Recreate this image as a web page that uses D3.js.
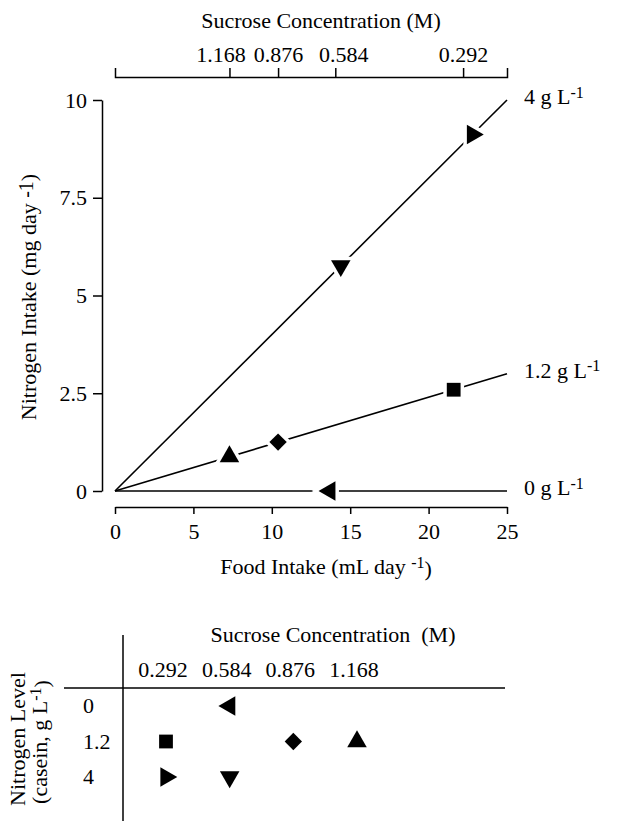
<!DOCTYPE html>
<html>
<head>
<meta charset="utf-8">
<script src="https://cdn.jsdelivr.net/npm/d3@7"></script>
<style>
  body { margin: 0; background: #fff; }
  svg text { font-family: "Liberation Serif", "DejaVu Serif", serif; font-size: 22px; fill: #000; }
  .axis path, .axis line { stroke: #000; stroke-width: 1.5; }
</style>
</head>
<body>
<svg id="chart" width="618" height="821"></svg>
<script>
// values
const sucroseLevels = ['0.292', '0.584', '0.876', '1.168'];
const sucroseTickFood = [22.2, 14.05, 10.4, 7.3];   // where each sucrose tick sits on the food axis
const nitrogenLevels = ['0', '1.2', '4'];
const lineEndIntake = [0, 3, 10];                    // N intake at 25 mL/day, per nitrogen level
const lineLabels = ['0 g L', '1.2 g L', '4 g L'];

const pointShape    = ['left', 'square', 'diamond', 'up', 'right', 'down'];
const pointSucrose  = ['0.584', '0.292', '0.876', '1.168', '0.292', '0.584'];
const pointNitrogen = ['0', '1.2', '1.2', '1.2', '4', '4'];
const pointFood     = [13.7, 21.6, 10.4, 7.3, 22.8, 14.4];
const pointIntake   = [0, 2.59, 1.25, 0.88, 9.12, 5.76];

const foodTicks = [0, 5, 10, 15, 20, 25];
const intakeTicks = [0, 2.5, 5, 7.5, 10];

const FONT = '"Liberation Serif", "DejaVu Serif", serif';
const svg = d3.select('#chart').attr('font-family', FONT);

let x = d3.scaleLinear().domain([0, 25]).range([115, 507]),
    y = d3.scaleLinear().domain([0, 10]).range([491, 100]);

function marker(shape) {
  let type = d3.symbolTriangle, size = 165, rot = 0;
  if (shape === 'square') { type = d3.symbolSquare; size = 190; }
  if (shape === 'diamond') { type = d3.symbolSquare; size = 150; rot = 45; }
  if (shape === 'right') rot = 90;
  if (shape === 'down') rot = 180;
  if (shape === 'left') rot = -90;
  return {path: d3.symbol().type(type).size(size)(), rot: rot};
}

function drawMarkers(g, px, py, halo) {
  let m = g.selectAll('.pt').data(pointShape.map((s, i) => i))
    .enter().append('g')
      .attr('class', 'pt')
      .attr('transform', i => `translate(${px(i)},${py(i)}) rotate(${marker(pointShape[i]).rot})`);
  if (halo) {
    m.append('path')
      .attr('d', i => marker(pointShape[i]).path)
      .attr('fill', '#fff')
      .attr('stroke', '#fff')
      .attr('stroke-width', 7);
  }
  m.append('path')
    .attr('d', i => marker(pointShape[i]).path)
    .attr('fill', '#000');
}

function label(parent) {
  return parent.append('text').attr('font-family', FONT).attr('font-size', 22);
}

function supText(sel, main, sup, close, size, shift) {
  shift = shift || 0.4;
  sel.append('tspan').text(main);
  sel.append('tspan')
    .attr('dy', `-${shift}em`)
    .attr('font-size', size || 16)
    .text(sup);
  if (close) sel.append('tspan').attr('dy', `${shift}em`).text(close);
  return sel;
}

// ---- top chart ----
let lines = svg.append('g').attr('class', 'lines');
lines.selectAll('line').data(lineEndIntake)
  .enter().append('line')
    .attr('x1', x(0)).attr('y1', y(0))
    .attr('x2', x(25)).attr('y2', d => y(d))
    .attr('stroke', '#000')
    .attr('stroke-width', 1.6);

drawMarkers(svg.append('g'), i => x(pointFood[i]), i => y(pointIntake[i]), true);

// line labels
lineEndIntake.forEach((d, i) => {
  supText(label(svg).attr('x', x(25) + 17).attr('y', y(d) + 4), lineLabels[i], '-1');
});

// left axis
svg.append('g')
  .attr('class', 'axis axis--y')
  .attr('transform', 'translate(102,0)')
  .call(d3.axisLeft(y).tickValues(intakeTicks).tickFormat(d => d).tickSize(9).tickSizeOuter(0).tickPadding(6));

// bottom axis
svg.append('g')
  .attr('class', 'axis axis--x')
  .attr('transform', 'translate(0,507)')
  .call(d3.axisBottom(x).tickValues(foodTicks).tickSize(7).tickSizeOuter(0).tickPadding(9));

// top (sucrose) axis
let nudge = [0, 8, 0, -9];
let axisTop = svg.append('g')
  .attr('class', 'axis axis--top')
  .attr('transform', 'translate(0,77)')
  .call(d3.axisTop(x).tickValues(sucroseTickFood).tickFormat((d, i) => sucroseLevels[i]).tickSize(9).tickSizeOuter(9).tickPadding(6));
axisTop.selectAll('.tick text').attr('dx', (d, i) => nudge[i]);

svg.selectAll('.axis').attr('font-family', FONT).attr('font-size', 22);

label(svg)
  .attr('x', 321).attr('y', 28)
  .attr('text-anchor', 'middle')
  .text('Sucrose Concentration (M)');

supText(label(svg).attr('x', 326).attr('y', 574).attr('text-anchor', 'middle'),
  'Food Intake (mL day ', '-1', ')');

supText(label(svg).attr('transform', 'translate(36,297) rotate(-90)').attr('text-anchor', 'middle'),
  'Nitrogen Intake (mg day ', '-1', ')', 20, 0.15);

// ---- bottom table ----
let col = d3.scalePoint().domain(sucroseLevels).range([166, 357]),
    row = d3.scalePoint().domain(nitrogenLevels).range([706, 777]);

let tbl = svg.append('g').attr('class', 'table');
tbl.append('line').attr('x1', 123).attr('x2', 123).attr('y1', 635).attr('y2', 821)
  .attr('stroke', '#000').attr('stroke-width', 1.5);
tbl.append('line').attr('x1', 64).attr('x2', 505).attr('y1', 688).attr('y2', 688)
  .attr('stroke', '#000').attr('stroke-width', 1.5);

label(tbl)
  .attr('x', 333).attr('y', 642)
  .attr('text-anchor', 'middle')
  .style('white-space', 'pre')
  .text('Sucrose Concentration  (M)');

tbl.selectAll('.col').data(sucroseLevels)
  .enter().append('text')
    .attr('class', 'col')
    .attr('font-family', FONT).attr('font-size', 22)
    .attr('x', d => col(d) - 3).attr('y', 677)
    .attr('text-anchor', 'middle')
    .text(d => d);

tbl.selectAll('.row').data(nitrogenLevels)
  .enter().append('text')
    .attr('class', 'row')
    .attr('font-family', FONT).attr('font-size', 22)
    .attr('x', 83).attr('y', d => row(d) + 7)
    .text(d => d);

drawMarkers(tbl, i => col(pointSucrose[i]), i => row(pointNitrogen[i]), false);

label(tbl)
  .attr('transform', 'translate(25,739) rotate(-90)')
  .attr('text-anchor', 'middle')
  .text('Nitrogen Level');

supText(label(tbl).attr('transform', 'translate(47,742) rotate(-90)').attr('text-anchor', 'middle'),
  '(casein, g L', '-1', ')');
</script>
</body>
</html>
